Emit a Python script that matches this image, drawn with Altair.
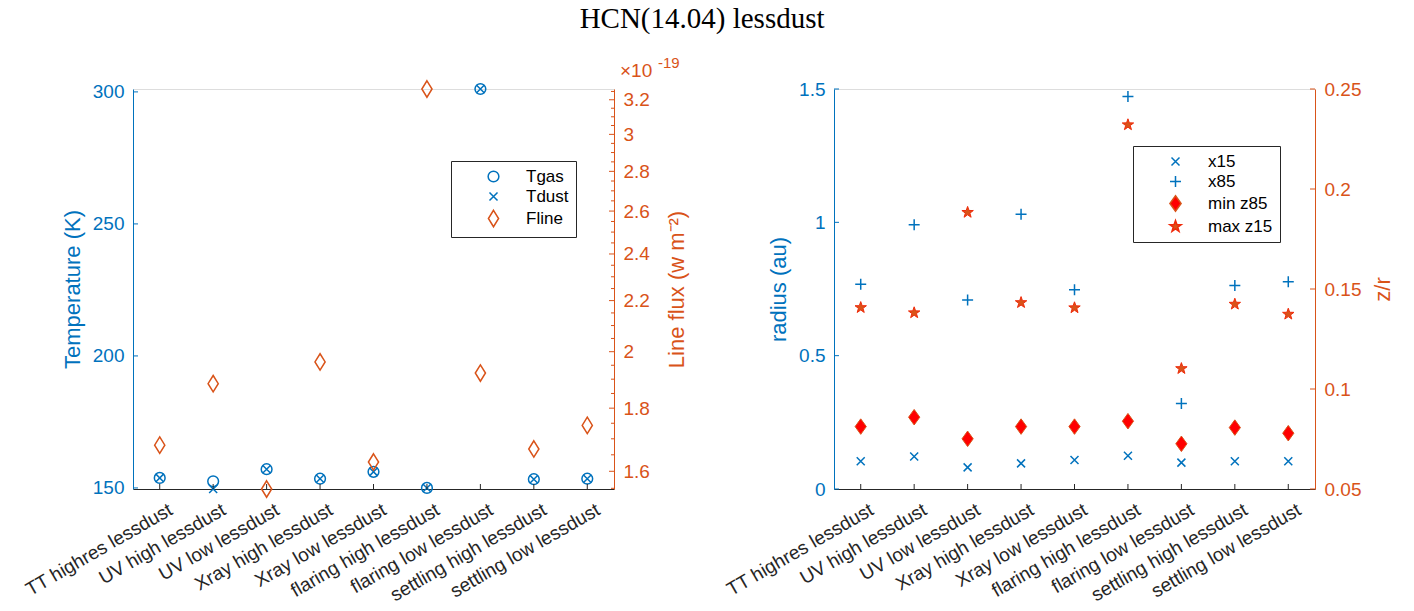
import math
import altair as alt
import pandas as pd

# ---------------- data ----------------
cats = ["TT highres lessdust", "UV high lessdust", "UV low lessdust",
        "Xray high lessdust", "Xray low lessdust", "flaring high lessdust",
        "flaring low lessdust", "settling high lessdust", "settling low lessdust"]

tgas = [153.8, 152.5, 157.1, 153.5, 156.1, 150.0, 301.1, 153.3, 153.5]
tdust = [153.8, 149.6, 157.1, 153.5, 156.1, 150.0, 301.1, 153.3, 153.5]
fline = [1.680, 1.884, 1.548, 1.962, 1.628, 3.265, 1.922, 1.668, 1.743]  # x1e-19

x15 = [0.104, 0.122, 0.081, 0.096, 0.109, 0.125, 0.099, 0.104, 0.104]
x85 = [0.768, 0.991, 0.709, 1.030, 0.747, 1.472, 0.321, 0.763, 0.777]
minz85 = [0.0812, 0.0859, 0.0751, 0.0812, 0.0812, 0.0839, 0.0726, 0.0807, 0.0779]
maxz15 = [0.1407, 0.1381, 0.1883, 0.1432, 0.1406, 0.2321, 0.1102, 0.1424, 0.1374]

temp_ticks = [150, 200, 250, 300]
flux_ticks = [1.6, 1.8, 2.0, 2.2, 2.4, 2.6, 2.8, 3.0, 3.2]
flux_minor = [1.55, 1.65, 1.7, 1.75, 1.85, 1.9, 1.95, 2.05, 2.1, 2.15, 2.25, 2.3, 2.35,
              2.45, 2.5, 2.55, 2.65, 2.7, 2.75, 2.85, 2.9, 2.95, 3.05, 3.1, 3.15, 3.25]
rad_ticks = [0, 0.5, 1.0, 1.5]
zr_ticks = [0.05, 0.1, 0.15, 0.2, 0.25]

# ---------------- style ----------------
BLUE = "#0072BD"
ORANGE = "#D95319"
DARK = "#262626"
FONT = "Liberation Sans"
W, H = 481, 400
TK = 5


def p_x(a):
    return f"M{-a},{-a}L{a},{a}M{-a},{a}L{a},{-a}"


def p_plus(a):
    return f"M{-a},0L{a},0M0,{-a}L0,{a}"


def p_diam(h, w):
    return f"M0,{-h}L{w},0L0,{h}L{-w},0Z"


def p_star(r):
    pts = []
    for k in range(10):
        rr = r if k % 2 == 0 else 0.4 * r
        ang = math.radians(-90 + 36 * k)
        pts.append(f"{rr * math.cos(ang):.4f},{rr * math.sin(ang):.4f}")
    return "M" + "L".join(pts) + "Z"


def frame(vals, series):
    return pd.DataFrame({"cat": cats, "series": series, "v": vals})


xenc = alt.X("cat:N", sort=cats, title=None,
             scale=alt.Scale(type="point", padding=0.5),
             axis=alt.Axis(labelAngle=330, labelAlign="right", labelBaseline="top",
                           labelFontSize=19, labelColor=DARK, domainColor=DARK,
                           ticks=False, labelPadding=11, labelOffset=6,
                           labelFont=FONT, grid=False))


def yaxis(orient, color, values, title, fmt, tpad):
    return alt.Axis(orient=orient, values=values, title=title, format=fmt,
                    domainColor=color, labelColor=color, titleColor=color,
                    ticks=False, labelFontSize=19, titleFontSize=22,
                    labelFont=FONT, titleFont=FONT, titleFontWeight="normal",
                    labelPadding=9, titlePadding=tpad, grid=False,
                    titleAngle=270,
                    titleBaseline=("bottom" if orient == "left" else "top"))


def legend_obj(lx, ly, ssize):
    return alt.Legend(title=None, orient="none", legendX=lx, legendY=ly,
                      strokeColor=DARK, fillColor="white", padding=7,
                      symbolOffset=27, labelOffset=24, rowPadding=2,
                      labelFontSize=17, labelFont=FONT, labelColor="black",
                      symbolSize=ssize, symbolStrokeWidth=1.5)


def points(df, yscale, yaxis_obj, size, sw, scales, leg):
    shape_sc, stroke_sc, fill_sc = scales
    enc = dict(
        x=xenc,
        y=alt.Y("v:Q", scale=yscale, axis=yaxis_obj),
        shape=alt.Shape("series:N", scale=shape_sc, legend=leg),
        stroke=alt.Stroke("series:N", scale=stroke_sc, legend=leg),
    )
    if fill_sc is not None:
        enc["fill"] = alt.Fill("series:N", scale=fill_sc, legend=leg)
        mk = alt.Chart(df).mark_point(size=size, strokeWidth=sw, opacity=1)
    else:
        mk = alt.Chart(df).mark_point(size=size, strokeWidth=sw, opacity=1, filled=False)
    return mk.encode(**enc)


def yticks(vals, yscale, yaxis_obj, color, x0, x1):
    return alt.Chart(pd.DataFrame({"v": vals})).mark_rule(color=color, strokeWidth=1).encode(
        y=alt.Y("v:Q", scale=yscale, axis=yaxis_obj),
        x=alt.value(x0), x2=alt.value(x1))


def xticks():
    return alt.Chart(pd.DataFrame({"cat": cats})).mark_rule(color=DARK, strokeWidth=1).encode(
        x=xenc, y=alt.value(H - TK), y2=alt.value(H))


# ---------------- left panel ----------------
LS = 115  # common symbol size (circle diameter ~10.7 px)
L_dom = ["Tgas", "Tdust", "Fline"]
l_scales = (alt.Scale(domain=L_dom, range=["circle", p_x(0.75), p_diam(1.53, 0.95)]),
            alt.Scale(domain=L_dom, range=[BLUE, BLUE, ORANGE]),
            None)
l_leg = legend_obj(318, 72, LS)

tscale = alt.Scale(domain=[min(tgas + tdust), max(tgas + tdust)], nice=False, zero=False)
taxis = yaxis("left", BLUE, temp_ticks, "Temperature (K)", "d", 8)
fscale = alt.Scale(type="log", domain=[min(fline), max(fline)], nice=False)
faxis = yaxis("right", ORANGE, flux_ticks, "Line flux (w m\u207b\u00b2)", ".1~f", 17)

temp_layer = alt.layer(
    points(frame(tgas, "Tgas"), tscale, taxis, LS, 1.5, l_scales, l_leg),
    points(frame(tdust, "Tdust"), tscale, taxis, LS, 1.5, l_scales, l_leg),
    yticks(temp_ticks, tscale, taxis, BLUE, 0, TK),
    xticks(),
)
flux_layer = alt.layer(
    points(frame(fline, "Fline"), fscale, faxis, LS, 1.5, l_scales, l_leg),
    yticks(flux_ticks, fscale, faxis, ORANGE, W - TK, W),
    yticks(flux_minor, fscale, faxis, ORANGE, W - 3, W),
)
exp_base = alt.Chart(pd.DataFrame({"t": ["\u00d710"]})).mark_text(
    align="left", baseline="alphabetic", fontSize=19, font=FONT, color=ORANGE).encode(
    text="t:N", x=alt.value(W + 6), y=alt.value(-12))
exp_sup = alt.Chart(pd.DataFrame({"t": ["-19"]})).mark_text(
    align="left", baseline="alphabetic", fontSize=15, font=FONT, color=ORANGE).encode(
    text="t:N", x=alt.value(W + 44), y=alt.value(-21))

left = alt.layer(temp_layer, flux_layer, exp_base, exp_sup).resolve_scale(
    y="independent").properties(width=W, height=H)

# ---------------- right panel ----------------
RS = 100  # common symbol size (5 px per path unit)
R_dom = ["x15", "x85", "min z85", "max z15"]
r_scales = (alt.Scale(domain=R_dom, range=[p_x(0.8), p_plus(1.1), p_diam(1.55, 1.12), p_star(1.2)]),
            alt.Scale(domain=R_dom, range=[BLUE, BLUE, ORANGE, "#F02A0A"]),
            alt.Scale(domain=R_dom, range=["transparent", "transparent", "#FF0000", ORANGE]))
r_leg = legend_obj(299, 57, RS)

rscale = alt.Scale(domain=[0, 1.5], nice=False, zero=False)
raxis = yaxis("left", BLUE, rad_ticks, "radius (au)", ".1~f", 8)
zscale = alt.Scale(domain=[0.05, 0.25], nice=False, zero=False)
zaxis = yaxis("right", ORANGE, zr_ticks, "z/r", ".2~f", 12)

rad_layer = alt.layer(
    points(frame(x15, "x15"), rscale, raxis, RS, 1.5, r_scales, r_leg),
    points(frame(x85, "x85"), rscale, raxis, RS, 1.5, r_scales, r_leg),
    yticks(rad_ticks, rscale, raxis, BLUE, 0, TK),
    xticks(),
)
zr_layer = alt.layer(
    points(frame(minz85, "min z85"), zscale, zaxis, RS, 1, r_scales, r_leg),
    points(frame(maxz15, "max z15"), zscale, zaxis, RS, 1, r_scales, r_leg),
    yticks(zr_ticks, zscale, zaxis, ORANGE, W - TK, W),
)
right = alt.layer(rad_layer, zr_layer).resolve_scale(y="independent").properties(
    width=W, height=H)

chart = alt.hconcat(left, right, spacing=34).resolve_scale(
    x="independent", y="independent", shape="independent",
    stroke="independent", fill="independent").resolve_legend(
    shape="independent", stroke="independent", fill="independent").properties(
    title=alt.TitleParams("HCN(14.04) lessdust", font="Liberation Serif", fontSize=29,
                          fontWeight="normal", color="black", anchor="middle",
                          offset=22, dx=-6),
    padding={"left": 21, "top": 4, "right": 5, "bottom": 5},
).configure_view(stroke=None).configure(background="white")

chart.save("out.html", embed_options={"renderer": "svg", "actions": False})
